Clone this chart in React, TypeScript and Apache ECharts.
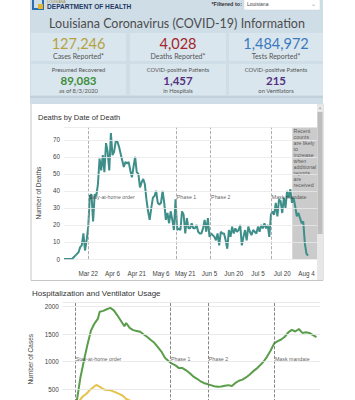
import React, { useEffect, useRef } from "react";
import * as echarts from "echarts";

// Day index 0 = Mar 7, 2020
const DEATHS = [0,0,0,0,0,0,1,2,3,4,7,8,15,5,11,19,37,38,22,38,37,44,59,52,61,51,68,63,52,74,61,63,69,69,66,62,58,54,57,56,57,52,48,54,60,51,50,42,45,47,44,35,28,23,30,36,37,40,33,32,33,40,33,23,27,21,28,23,17,35,17,18,17,28,26,15,24,18,18,21,18,18,20,16,15,15,18,23,16,24,13,15,14,13,11,15,8,16,15,15,11,6,17,13,19,15,18,16,17,20,8,13,17,11,19,16,14,17,16,15,19,16,20,18,21,18,20,13,26,28,26,33,25,35,34,27,36,30,40,36,41,33,36,31,25,27,24,21,22,9,3,2];

const HOSP_DAY = [16,18,20,22,24,26,28,29,31,33,35,37,39,41,43,44,46,48,50,52,54,56,58,60,62,64,66,68,70,72,74,76,78,80,82,84,86,88,90,92,94,96,98,100,102,104,106,108,110,112,114,116,118,120,122,124,126,128,130,132,134,136,138,140,142,144,146,148,150,152];
const HOSP_VAL = [280,700,1010,1300,1560,1690,1780,1905,1920,1950,1975,1930,1840,1740,1640,1700,1610,1570,1555,1540,1490,1445,1390,1340,1260,1180,1070,1010,960,930,880,880,840,790,730,690,645,610,590,570,550,540,545,560,570,554,610,650,670,710,760,820,870,930,1000,1090,1200,1330,1370,1400,1450,1530,1575,1545,1590,1520,1530,1520,1480,1445];

const VENT_DAY = [16,17,18,19,20,21,22,23,24,25,26,27,28,29,30,31,32,33,34,35,36,37,38,39,40,41,42,43,44,45,46,50,55,60,65,70,75,80,85,90,95,100,105,110,115,120,125,130,135,140,145,150,152];
const VENT_VAL = [150,240,310,350,380,400,430,470,500,520,550,572,560,540,520,500,485,480,482,478,465,452,440,425,410,395,380,350,320,305,290,250,210,180,150,135,120,105,95,90,85,85,90,100,120,145,180,210,230,240,235,220,215];

const EVENT_DAYS = [15, 69.3, 90.5, 128];
const EVENT_NAMES = ["Stay-at-home order", "Phase 1", "Phase 2", "Mask mandate"];
const HOSP_EVENT_DAYS = [15, 69, 90.5, 128];
const RECENT_START = 141.2;

const STATS_TOP = [
  { value: "127,246", label: "Cases Reported*", color: "#b6a23c" },
  { value: "4,028", label: "Deaths Reported*", color: "#a3242a" },
  { value: "1,484,972", label: "Tests Reported*", color: "#3b79bd" },
];
const STATS_BOTTOM = [
  { top: "Presumed Recovered", value: "89,083", sub: "as of 8/3/2020", color: "#3f8d3b" },
  { top: "COVID-positive Patients", value: "1,457", sub: "in Hospitals", color: "#55307e" },
  { top: "COVID-positive Patients", value: "215", sub: "on Ventilators", color: "#55307e" },
];

const MONTHS = ["Jan","Feb","Mar","Apr","May","Jun","Jul","Aug","Sep","Oct","Nov","Dec"];
function dayLabel(idx: number) {
  const d = new Date(Date.UTC(2020, 2, 7 + Math.round(idx)));
  return MONTHS[d.getUTCMonth()] + " " + d.getUTCDate();
}

const CF = "'Liberation Sans', Arial, sans-serif";
const HF = "Lato, 'Open Sans', sans-serif";

export default function App() {
  const ref = useRef<HTMLDivElement>(null);
  useEffect(() => {
    if (!ref.current) return;
    const chart = echarts.init(ref.current, undefined, { renderer: "svg" });

    const boxX = [31, 130, 229];
    const boxW = [95, 96, 94];
    const graphics: any[] = [
      { type: "rect", shape: { x: 30, y: 0, width: 293, height: 104 }, style: { fill: "#cfdde7" }, z: 0 },
      { type: "rect", shape: { x: 33, y: -1, width: 10, height: 10 }, style: { fill: "none", stroke: "#2d6cae", lineWidth: 2 }, z: 1 },
      { type: "rect", shape: { x: 38, y: 4, width: 5, height: 5 }, style: { fill: "#e4b52a" }, z: 2 },
      { type: "text", x: 47, y: 6.5, style: { text: "DEPARTMENT OF HEALTH", fill: "#1e3a64", fontSize: 6.6, fontWeight: "bold", fontFamily: CF, verticalAlign: "middle" }, z: 2 },
      { type: "text", x: 47, y: 2, style: { text: "LOUISIANA", fill: "#9c8c4a", fontSize: 3.5, fontFamily: CF, verticalAlign: "middle" }, z: 2 },
      { type: "text", x: 242, y: 4, style: { text: "*Filtered to:", fill: "#333", fontSize: 5.5, fontWeight: "bold", fontFamily: CF, align: "right", verticalAlign: "middle" }, z: 2 },
      { type: "rect", shape: { x: 244, y: -2, width: 76, height: 12 }, style: { fill: "#ffffff", stroke: "#c9d3da", lineWidth: 0.5 }, z: 1 },
      { type: "text", x: 247, y: 4, style: { text: "Louisiana", fill: "#444", fontSize: 5, fontFamily: CF, verticalAlign: "middle" }, z: 2 },
      { type: "text", x: 313, y: 3.5, style: { text: "⌄", fill: "#999", fontSize: 6, fontFamily: CF, align: "center", verticalAlign: "middle" }, z: 2 },
      { type: "text", x: 177, y: 23.5, style: { text: "Louisiana Coronavirus (COVID-19) Information", fill: "#4d4d4d", fontSize: 12.5, fontFamily: HF, align: "center", verticalAlign: "middle" }, z: 2 },
      { type: "rect", shape: { x: 30, y: 96, width: 293, height: 2 }, style: { fill: "#c1d0db" }, z: 1 },
      // chart panel
      { type: "rect", shape: { x: 31, y: 103.5, width: 292, height: 177 }, style: { fill: "#ffffff", stroke: "#c6c6c6", lineWidth: 1 }, z: -1 },
      { type: "rect", shape: { x: 317, y: 104, width: 6, height: 176 }, style: { fill: "#e7e7e7" }, z: 2 },
      { type: "rect", shape: { x: 317.5, y: 112, width: 5, height: 122 }, style: { fill: "#bdbdbd" }, z: 3 },
      { type: "text", x: 320, y: 107, style: { text: "▴", fill: "#999", fontSize: 4, fontFamily: CF, align: "center", verticalAlign: "middle" }, z: 3 },
      { type: "text", x: 38, y: 117.5, style: { text: "Deaths by Date of Death", fill: "#333", fontSize: 7.5, fontFamily: CF, verticalAlign: "middle" }, z: 3 },
      { type: "text", x: 32, y: 293.5, style: { text: "Hospitalization and Ventilator Usage", fill: "#333", fontSize: 8, fontFamily: CF, verticalAlign: "middle" }, z: 3 },
    ];
    STATS_TOP.forEach((s, i) => {
      graphics.push({ type: "rect", shape: { x: boxX[i], y: 33, width: boxW[i], height: 28 }, style: { fill: "#d9e6ee" }, z: 1 });
      graphics.push({ type: "text", x: boxX[i] + boxW[i] / 2, y: 43.5, style: { text: s.value, fill: s.color, fontSize: 14.5, fontFamily: HF, align: "center", verticalAlign: "middle" }, z: 2 });
      graphics.push({ type: "text", x: boxX[i] + boxW[i] / 2, y: 56, style: { text: s.label, fill: "#555", fontSize: 7, fontFamily: HF, align: "center", verticalAlign: "middle" }, z: 2 });
    });
    STATS_BOTTOM.forEach((s, i) => {
      graphics.push({ type: "rect", shape: { x: boxX[i], y: 64, width: boxW[i], height: 31 }, style: { fill: "#d9e6ee" }, z: 1 });
      graphics.push({ type: "text", x: boxX[i] + boxW[i] / 2, y: 69.5, style: { text: s.top, fill: "#555", fontSize: 5.8, fontFamily: HF, align: "center", verticalAlign: "middle" }, z: 2 });
      graphics.push({ type: "text", x: boxX[i] + boxW[i] / 2, y: 80, style: { text: s.value, fill: s.color, fontSize: 11.5, fontWeight: "bold", fontFamily: HF, align: "center", verticalAlign: "middle" }, z: 2 });
      graphics.push({ type: "text", x: boxX[i] + boxW[i] / 2, y: 90.5, style: { text: s.sub, fill: "#555", fontSize: 5.8, fontFamily: HF, align: "center", verticalAlign: "middle" }, z: 2 });
    });

    const labelStyle = { fontSize: 6.3, color: "#444", fontFamily: CF };

    chart.setOption({
      animation: false,
      backgroundColor: "transparent",
      graphic: graphics,
      grid: [
        { left: 64, right: 38, top: 127, height: 132, z: 5 },
        { left: 62.7, right: 35, top: 302.1, height: 114.4, z: 5 },
      ],
      xAxis: [
        {
          type: "value", gridIndex: 0, min: 0, max: 156.5, interval: 15, z: 8,
          axisLine: { show: false }, axisTick: { show: false }, splitLine: { show: false },
          axisLabel: { ...labelStyle, margin: 11, showMinLabel: false, showMaxLabel: false, formatter: (v: number) => dayLabel(v) },
        },
        {
          type: "value", gridIndex: 1, min: 8, max: 154, interval: 15, z: 8,
          axisLine: { show: false }, axisTick: { show: false }, splitLine: { show: false },
          axisLabel: { show: false },
        },
      ],
      yAxis: [
        {
          type: "value", gridIndex: 0, min: 0, max: 77.5, interval: 10, z: 8,
          name: "Number of Deaths", nameLocation: "middle", nameGap: 14,
          nameTextStyle: { fontSize: 6.5, color: "#444", fontFamily: CF },
          axisLine: { show: false }, axisTick: { show: false },
          axisLabel: { ...labelStyle, margin: 4, showMaxLabel: false },
          splitLine: { lineStyle: { color: "#e8e8e8", width: 0.8 } },
        },
        {
          type: "value", gridIndex: 1, min: 0, max: 2080, interval: 500, z: 8,
          name: "Number of Cases", nameLocation: "middle", nameGap: 20,
          nameTextStyle: { fontSize: 6.5, color: "#444", fontFamily: CF },
          axisLine: { show: false }, axisTick: { show: false },
          axisLabel: { ...labelStyle, margin: 4, showMaxLabel: false, showMinLabel: false, formatter: (v: number) => String(v) },
          splitLine: { lineStyle: { color: "#e4e4e4", width: 0.8 } },
        },
      ],
      series: [
        {
          type: "line", xAxisIndex: 0, yAxisIndex: 0, z: 4,
          data: DEATHS.map((v, i) => [i, v]),
          showSymbol: false, symbol: "none",
          lineStyle: { color: "#3e8f89", width: 2 },
          markArea: {
            silent: true,
            itemStyle: { color: "#cbcbcb" },
            data: [[{ xAxis: RECENT_START }, { xAxis: 156.5 }]],
          },
          markLine: {
            silent: true, symbol: "none", label: { show: false },
            lineStyle: { color: "#9a9a9a", type: "dashed", width: 0.8 },
            data: EVENT_DAYS.map((d) => ({ xAxis: d })),
          },
        },
        {
          type: "scatter", xAxisIndex: 0, yAxisIndex: 0, symbolSize: 0, z: 6,
          data: EVENT_DAYS.map((d, i) => ({ value: [d + 0.5, 36.5], name: EVENT_NAMES[i] })),
          label: { show: true, position: "right", distance: 0, formatter: (p: any) => p.name, fontSize: 5.3, color: "#333", fontFamily: CF },
        },
        {
          type: "scatter", xAxisIndex: 0, yAxisIndex: 0, symbolSize: 0, z: 6,
          data: [{ value: [RECENT_START + 0.8, 77.2], name: "Recent\ncounts\nare likely\nto\nincrease\nwhen\nadditional\nreports\nare\nreceived" }],
          label: { show: true, position: [0, 0], align: "left", verticalAlign: "top", lineHeight: 6, formatter: (p: any) => p.name, fontSize: 5.3, color: "#333", fontFamily: CF },
        },
        {
          type: "line", xAxisIndex: 1, yAxisIndex: 1, z: 4,
          data: VENT_DAY.map((d, i) => [d, VENT_VAL[i]]),
          showSymbol: false, symbol: "none",
          lineStyle: { color: "#e6c34a", width: 2 },
        },
        {
          type: "line", xAxisIndex: 1, yAxisIndex: 1, z: 4,
          data: HOSP_DAY.map((d, i) => [d, HOSP_VAL[i]]),
          showSymbol: false, symbol: "none",
          lineStyle: { color: "#5a9d4a", width: 2 },
          markLine: {
            silent: true, symbol: "none", label: { show: false },
            lineStyle: { color: "#666", type: "dashed", width: 0.8 },
            data: HOSP_EVENT_DAYS.map((d) => ({ xAxis: d })),
          },
        },
        {
          type: "scatter", xAxisIndex: 1, yAxisIndex: 1, symbolSize: 0, z: 6,
          data: HOSP_EVENT_DAYS.map((d, i) => ({ value: [d + 0.4, 1045], name: EVENT_NAMES[i] })),
          label: { show: true, position: "right", distance: 0, formatter: (p: any) => p.name, fontSize: 5.3, color: "#333", fontFamily: CF },
        },
      ],
    });
    return () => chart.dispose();
  }, []);

  return (
    <div style={{ position: "fixed", left: 0, top: 0, width: 355, height: 400, overflow: "hidden", background: "#fff" }}>
      <div ref={ref} style={{ width: 355, height: 440 }} />
    </div>
  );
}
